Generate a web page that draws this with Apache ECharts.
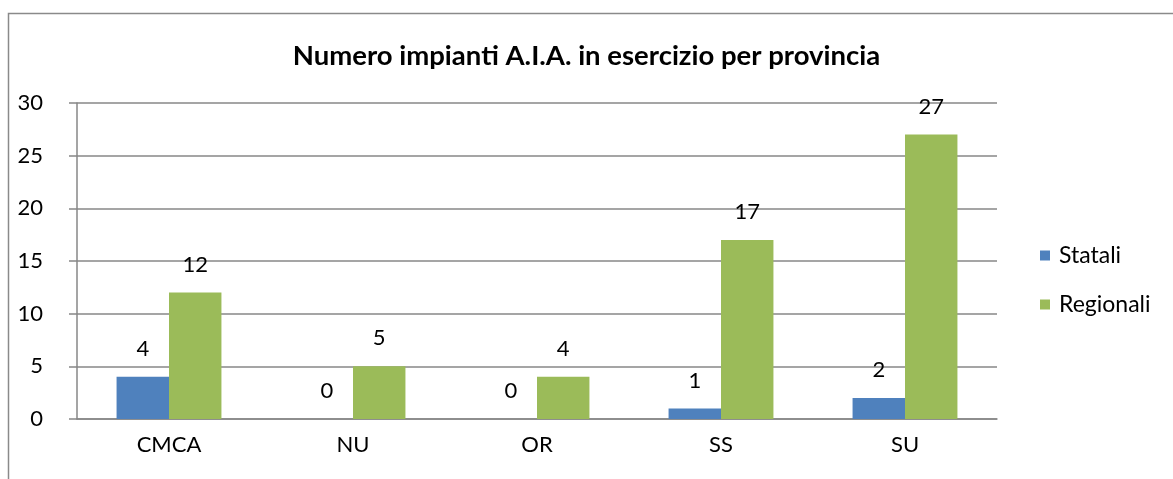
<!DOCTYPE html>
<html>
<head>
<meta charset="utf-8">
<script src="https://cdn.jsdelivr.net/npm/echarts@6/dist/echarts.min.js"></script>
<style>
  html, body { margin: 0; padding: 0; background: #fff; }
  #main { width: 1173px; height: 479px; }
</style>
</head>
<body>
<div id="main"></div>
<script>
// dati
const province = ['CMCA', 'NU', 'OR', 'SS', 'SU'];
const statali = [4, 0, 0, 1, 2];
const regionali = [12, 5, 4, 17, 27];
const yTicks = [0, 5, 10, 15, 20, 25, 30];

const font = 'Lato, "Open Sans", sans-serif';
const gridColor = '#878787';

let chart = echarts.init(document.getElementById('main'));

let option = {
    animation: false,
    backgroundColor: '#fff',
    textStyle: { fontFamily: font },
    title: {
        text: 'Numero impianti A.I.A. in esercizio per provincia',
        left: 'center',
        top: 37,
        textStyle: { fontFamily: font, fontSize: 27.5, fontWeight: 'bold', color: '#000' }
    },
    legend: {
        orient: 'vertical',
        left: 1035,
        top: 239,
        itemWidth: 10,
        itemHeight: 10,
        itemGap: 26,
        icon: 'rect',
        textStyle: { fontFamily: font, fontSize: 23, color: '#000', padding: [0, 0, 0, 4] },
        data: ['Statali', 'Regionali']
    },
    grid: { left: 77, right: 176, top: 103, bottom: 60 },
    xAxis: {
        type: 'category',
        data: province,
        axisLine: { lineStyle: { color: gridColor, width: 1.5 } },
        axisTick: { length: 7, lineStyle: { color: gridColor, width: 1.5 } },
        axisLabel: { fontFamily: font, fontSize: 22, color: '#000', margin: 15 }
    },
    yAxis: {
        type: 'value',
        min: yTicks[0],
        max: yTicks[yTicks.length - 1],
        interval: 5,
        axisLine: { show: true, lineStyle: { color: gridColor, width: 1.5 } },
        axisTick: { show: true, length: 8, lineStyle: { color: gridColor, width: 1.5 } },
        splitLine: { lineStyle: { color: gridColor, width: 1.5 } },
        axisLabel: { fontFamily: font, fontSize: 22, color: '#000', margin: 34 }
    },
    series: [
        {
            name: 'Statali',
            type: 'bar',
            data: statali,
            barGap: '0%',
            barCategoryGap: '43%',
            itemStyle: { color: '#4F81BD' },
            label: { show: true, position: 'top', distance: 17, fontFamily: font, fontSize: 22, color: '#000' }
        },
        {
            name: 'Regionali',
            type: 'bar',
            data: regionali,
            barGap: '0%',
            barCategoryGap: '43%',
            itemStyle: { color: '#9BBB59' },
            label: { show: true, position: 'top', distance: 17, fontFamily: font, fontSize: 22, color: '#000' }
        }
    ],
    graphic: [
        {
            type: 'rect',
            shape: { x: 8.5, y: 13.5, width: 1200, height: 500 },
            style: { fill: 'none', stroke: '#8a8a8a', lineWidth: 1.5 },
            silent: true
        }
    ]
};

chart.setOption(option);
</script>
</body>
</html>
